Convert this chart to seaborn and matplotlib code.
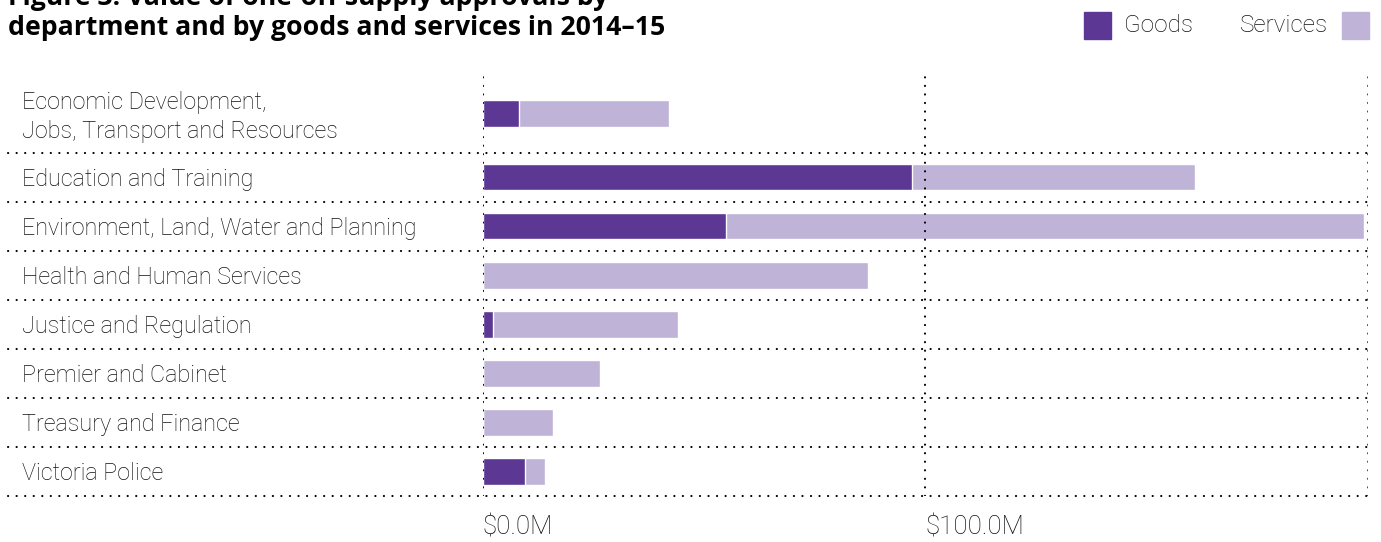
import matplotlib
matplotlib.use("Agg")
import matplotlib.pyplot as plt
import matplotlib.transforms as mtransforms
from matplotlib.patches import Rectangle
import numpy as np
import seaborn as sns

departments = [
    "Economic Development,\nJobs, Transport and Resources",
    "Education and Training",
    "Environment, Land, Water and Planning",
    "Health and Human Services",
    "Justice and Regulation",
    "Premier and Cabinet",
    "Treasury and Finance",
    "Victoria Police",
]
goods = [8.2, 97.1, 55.0, 0.0, 2.3, 0.0, 0.0, 9.5]
services = [33.9, 63.9, 144.2, 87.0, 41.9, 26.5, 15.8, 4.5]
x_ticks = [0, 100]
x_tick_labels = ["$0.0M", "$100.0M"]
title_lines = ["Figure 3: Value of one-off supply approvals by",
               "department and by goods and services in 2014\u201315"]

GOODS_COLOR = "#5C3894"
SERVICES_COLOR = "#BFB3D7"
TEXT_COLOR = "#111111"

sns.set_theme(style="white")
plt.rcParams["font.family"] = ["Roboto", "DejaVu Sans"]

# Row heights: two-line labels get a taller band
row_h = np.array([1.6 if "\n" in d else 1.0 for d in departments])
edges = np.concatenate([[0], np.cumsum(row_h)])
centers = (edges[:-1] + edges[1:]) / 2
totals = np.array(goods) + np.array(services)

fig = plt.figure(figsize=(13.81, 5.42), dpi=100)
ax = fig.add_axes([482.7 / 1381, 46 / 542, 885 / 1381, 422 / 542])

sns.barplot(x=totals, y=centers, orient="y", native_scale=True,
            color=SERVICES_COLOR, width=0.545, errorbar=None,
            saturation=1, ax=ax, zorder=1)
sns.barplot(x=np.array(goods), y=centers, orient="y", native_scale=True,
            color=GOODS_COLOR, width=0.545, errorbar=None,
            saturation=1, ax=ax, zorder=2)

ax.set_xlim(0, 200)
ax.set_ylim(edges[-1], 0)
for s in ax.spines.values():
    s.set_visible(False)

dot = (0, (0.1, 4))
# vertical guides drawn over the bars
for xv in x_ticks:
    ax.axvline(xv, color="black", lw=1.5, ls=dot, dash_capstyle="round", zorder=4)
ax.axvline(200, color=GOODS_COLOR, lw=1.5, ls=dot, dash_capstyle="round", zorder=4)

# row separators extending under the labels
x_left = (8 - 482.7) / 885
for yv in edges[1:]:
    ax.axhline(yv, xmin=x_left, xmax=1, color="black", lw=1.5, ls=dot,
               dash_capstyle="round", clip_on=False, zorder=4)

ax.set_yticks(centers)
ax.set_yticklabels(departments, fontsize=16.8, fontweight="light",
                   color=TEXT_COLOR, linespacing=1.33)
ax.tick_params(axis="y", length=0, pad=(482.7 - 22) * 72 / 100)
nudge_up = mtransforms.ScaledTranslation(0, 2 / 100, fig.dpi_scale_trans)
for lab in ax.get_yticklabels():
    lab.set_horizontalalignment("left")
    if "\n" in lab.get_text():
        lab.set_transform(lab.get_transform() + nudge_up)

ax.set_xticks(x_ticks)
ax.set_xticklabels(x_tick_labels, fontsize=18.6, fontweight="light",
                   color=TEXT_COLOR)
ax.tick_params(axis="x", length=0, pad=14)
for lab in ax.get_xticklabels():
    lab.set_horizontalalignment("left")
ax.set_xlabel("")
ax.set_ylabel("")
ax.grid(False)

# two-line heading, the upper line running off the top edge
for txt, base_px in zip(title_lines, [5, 35]):
    fig.text(8 / 1381, 1 - base_px / 542, txt, ha="left", va="baseline",
             fontsize=19.2, fontweight="bold", color="black",
             family=["Open Sans", "DejaVu Sans"])

# legend
fig.add_artist(Rectangle((1084 / 1381, 1 - 38.7 / 542), 27 / 1381, 26.7 / 542,
                         transform=fig.transFigure, color=GOODS_COLOR))
fig.text(1124 / 1381, 1 - 26 / 542, "Goods", ha="left", va="center",
         fontsize=17.5, fontweight="light", color=TEXT_COLOR)
fig.text(1328 / 1381, 1 - 26 / 542, "Services", ha="right", va="center",
         fontsize=17.5, fontweight="light", color=TEXT_COLOR)
fig.add_artist(Rectangle((1342 / 1381, 1 - 38.7 / 542), 27 / 1381, 26.7 / 542,
                         transform=fig.transFigure, color=SERVICES_COLOR))

fig.savefig("out.png", dpi=100)
